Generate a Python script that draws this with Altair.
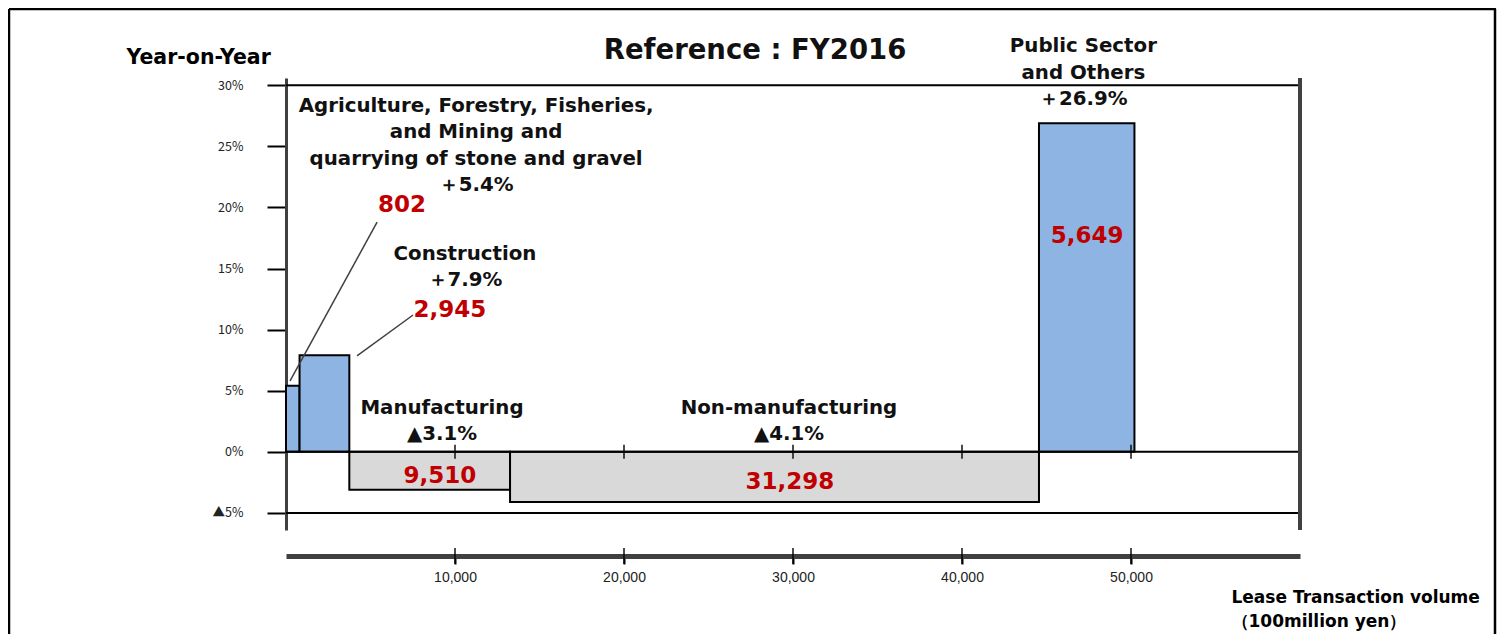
import altair as alt
import pandas as pd
import numpy as np

# ---------------- data ----------------
categories = ["Agriculture, Forestry, Fisheries, and Mining and quarrying of stone and gravel",
              "Construction", "Manufacturing", "Non-manufacturing", "Public Sector and Others"]
name_lines = [
    ["Agriculture, Forestry, Fisheries,", "and Mining and", "quarrying of stone and gravel"],
    ["Construction"],
    ["Manufacturing"],
    ["Non-manufacturing"],
    ["Public Sector", "and Others"],
]
volume = [802, 2945, 9510, 31298, 5649]          # 100 million yen
yoy = [5.4, 7.9, -3.1, -4.1, 26.9]               # % year-on-year
x_tick_values = [10000, 20000, 30000, 40000, 50000]
y_tick_values = [-5, 0, 5, 10, 15, 20, 25, 30]
title_text = "Reference : FY2016"
y_title = "Year-on-Year"
x_title = ["Lease Transaction volume", "（100million yen）"]

# ---------------- layout ----------------
X_DOMAIN = [0, 60000]
Y_DOMAIN = [-6.4, 30.6]
PLOT_W, PLOT_H = 1014, 452
AXIS_OFFSET = 26
# label anchors in data units (centre of first line)
name_anchor = [(11250, 28.3), (10590, 16.2), (9230, 3.6), (29760, 3.6), (47180, 33.2)]
value_anchor = [(6860, 20.2), (9700, 11.6), (9110, -1.95), (29820, -2.45), (47400, 17.7)]
LINE_STEP = 2.15
leader_lines = [(5390, 18.8, 240, 5.8), (7520, 11.2, 4200, 7.85)]

BOLD = "DejaVu Sans"
TICK_FONT = "Noto Sans CJK JP"
BLUE, GRAY, RED = "#8DB4E2", "#D9D9D9", "#C00000"

# ---------------- tables ----------------
ends = np.cumsum(volume)
starts = ends - np.array(volume)
bars = pd.DataFrame({
    "category": categories, "start": starts, "end": ends, "base": 0.0, "yoy": yoy,
    "kind": ["pos" if v >= 0 else "neg" for v in yoy],
})


def pct(v):
    return f"＋{v:.1f}%" if v >= 0 else f"▲{abs(v):.1f}%"


name_rows = []
for i, lines in enumerate(name_lines):
    ax, ay = name_anchor[i]
    for j, t in enumerate(lines + [pct(yoy[i])]):
        name_rows.append({"text": t, "x": ax, "y": ay - j * LINE_STEP})
names = pd.DataFrame(name_rows)
values = pd.DataFrame({"text": [f"{v:,}" for v in volume],
                       "x": [a[0] for a in value_anchor], "y": [a[1] for a in value_anchor]})
leaders = pd.DataFrame(leader_lines, columns=["x", "y", "x2", "y2"])
hlines = pd.DataFrame({"y": [30, -5, 0], "x0": X_DOMAIN[0], "x1": X_DOMAIN[1]})
axis_y = Y_DOMAIN[0] - AXIS_OFFSET * (Y_DOMAIN[1] - Y_DOMAIN[0]) / PLOT_H
zero_ticks = pd.DataFrame({"x": x_tick_values, "y": 0.0})
bottom_ticks = pd.DataFrame({"x": x_tick_values, "y": axis_y})
right_edge = pd.DataFrame({"x": [X_DOMAIN[1]], "y": [Y_DOMAIN[0]], "y2": [Y_DOMAIN[1]]})

xs = alt.Scale(domain=X_DOMAIN, nice=False, zero=False)
ys = alt.Scale(domain=Y_DOMAIN, nice=False, zero=False)

x_axis = alt.Axis(values=x_tick_values, labelExpr="format(datum.value, ',')", offset=AXIS_OFFSET,
                  grid=False, domainColor="#404040", domainWidth=5, ticks=True, tickSize=8, tickWidth=2,
                  tickColor="black", labelPadding=6, labelFont="Liberation Sans", labelFontSize=14,
                  labelColor="#222", title=x_title, titleX=945, titleY=33, titleAlign="left",
                  titleAnchor="start", titleBaseline="top", titleFont=BOLD, titleFontSize=17,
                  titleFontWeight="bold", titleColor="black", titleLineHeight=24)
y_axis = alt.Axis(values=y_tick_values, grid=False,
                  labelExpr="datum.value < 0 ? '▲' + abs(datum.value) + '%' : datum.value + '%'",
                  domainColor="#404040", domainWidth=3, tickSize=19, tickWidth=2, tickColor="black",
                  labelPadding=24, labelFont=TICK_FONT, labelFontSize=12.5, labelColor="#222",
                  title=y_title, titleAngle=0, titleX=-160, titleY=-21, titleAlign="left",
                  titleBaseline="middle", titleFont=BOLD, titleFontSize=20.5, titleFontWeight="bold",
                  titleColor="black")


def X(field):
    return alt.X(field, scale=xs, axis=x_axis)


def Y(field):
    return alt.Y(field, scale=ys, axis=y_axis)


bar_layer = alt.Chart(bars).mark_rect(stroke="black", strokeWidth=2).encode(
    x=X("start:Q"), x2="end:Q", y=Y("base:Q"), y2="yoy:Q",
    color=alt.Color("kind:N", scale=alt.Scale(domain=["pos", "neg"], range=[BLUE, GRAY]), legend=None),
)

hline_layer = alt.Chart(hlines).mark_rule(color="black", strokeWidth=2).encode(
    x=X("x0:Q"), x2="x1:Q", y=Y("y:Q"))

zero_tick_layer = alt.Chart(zero_ticks).mark_tick(orient="vertical", size=14, thickness=2, color="black").encode(
    x=X("x:Q"), y=Y("y:Q"))

bottom_tick_layer = alt.Chart(bottom_ticks).mark_tick(orient="vertical", size=16, thickness=2, color="black").encode(
    x=X("x:Q"), y=Y("y:Q"))

right_layer = alt.Chart(right_edge).mark_rule(color="#404040", strokeWidth=4).encode(
    x=X("x:Q"), y=Y("y:Q"), y2="y2:Q")

leader_layer = alt.Chart(leaders).mark_rule(color="#404040", strokeWidth=1.5).encode(
    x=X("x:Q"), y=Y("y:Q"), x2="x2:Q", y2="y2:Q")

name_layer = alt.Chart(names).mark_text(font=BOLD, fontWeight="bold", fontSize=19.8, color="#111",
                                        align="center", baseline="middle").encode(
    x=X("x:Q"), y=Y("y:Q"), text="text:N")

value_layer = alt.Chart(values).mark_text(font=BOLD, fontWeight="bold", fontSize=23, color=RED,
                                          align="center", baseline="middle").encode(
    x=X("x:Q"), y=Y("y:Q"), text="text:N")

title_layer = alt.Chart(pd.DataFrame({"t": [title_text]})).mark_text(
    font=BOLD, fontWeight="bold", fontSize=27.5, color="#111", align="center", baseline="middle").encode(
    text="t:N", x=alt.value(469), y=alt.value(-27))

frame = pd.DataFrame({"k": ["frame"]})
frame_left = alt.Chart(frame).mark_rule(color="black", strokeWidth=2.5).encode(
    x=alt.value(-277), y=alt.value(-69), y2=alt.value(560))
frame_top = alt.Chart(frame).mark_rule(color="black", strokeWidth=2.5).encode(
    x=alt.value(-277), x2=alt.value(1210), y=alt.value(-69))
frame_right = alt.Chart(frame).mark_rule(color="black", strokeWidth=2.5).encode(
    x=alt.value(1209), y=alt.value(-69), y2=alt.value(560))

chart = alt.layer(
    bar_layer, hline_layer, zero_tick_layer, bottom_tick_layer, right_layer, leader_layer,
    name_layer, value_layer, title_layer, frame_left, frame_top, frame_right,
).properties(
    width=PLOT_W, height=PLOT_H,
    padding={"left": 278, "top": 70, "right": 198, "bottom": 104},
    autosize=alt.AutoSizeParams(type="none"),
    background="white",
).configure_view(strokeWidth=0)

chart.save("out.html", embed_options={"renderer": "svg", "actions": False})
